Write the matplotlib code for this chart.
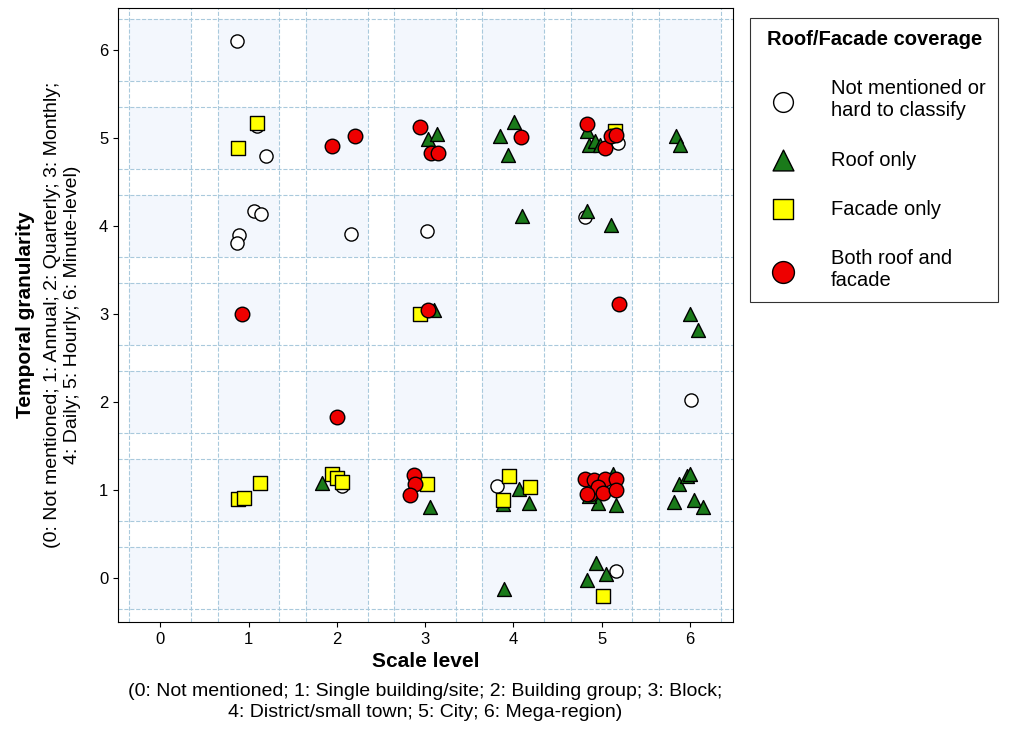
import matplotlib.pyplot as plt
from matplotlib.patches import Rectangle

plt.rcParams["font.family"] = ["Liberation Sans", "DejaVu Sans"]

none_x = [0.87, 1.10, 1.20, 1.06, 1.14, 0.89, 0.87, 2.16, 3.02, 4.81, 5.19, 6.01, 2.06, 3.82, 5.16]
none_y = [6.10, 5.14, 4.80, 4.17, 4.14, 3.90, 3.81, 3.91, 3.94, 4.10, 4.94, 2.02, 1.05, 1.05, 0.08]

roof_x = [3.03, 3.13, 3.85, 4.01, 3.94, 4.10, 4.84, 4.86, 4.93, 4.98, 5.84, 5.89, 4.84, 5.11,
          3.10, 6.00, 6.09, 1.83, 3.06, 3.88, 4.06, 4.18, 3.90, 4.83, 4.94, 5.05,
          4.96, 5.16, 5.13, 4.86, 5.82, 5.88, 5.97, 6.00, 6.05, 6.15]
roof_y = [4.99, 5.05, 5.02, 5.18, 4.81, 4.11, 5.08, 4.92, 4.97, 4.92, 5.02, 4.92, 4.17, 4.01,
          3.05, 3.00, 2.82, 1.08, 0.81, 0.84, 1.01, 0.85, -0.13, -0.02, 0.17, 0.05,
          0.85, 0.83, 1.18, 0.93, 0.86, 1.07, 1.16, 1.18, 0.89, 0.81]

facade_x = [1.10, 0.88, 0.88, 0.95, 1.13, 1.94, 2.00, 2.06, 2.94, 3.02, 3.95, 3.88, 4.19, 5.02, 5.15]
facade_y = [5.17, 4.89, 0.90, 0.91, 1.08, 1.18, 1.14, 1.09, 3.00, 1.07, 1.16, 0.89, 1.03, -0.20, 5.08]

both_x = [1.95, 2.21, 2.94, 3.07, 3.15, 4.09, 4.84, 5.04, 5.11, 5.16, 0.93, 3.03, 5.20, 2.00,
          2.88, 2.89, 2.83, 4.81, 4.91, 5.04, 5.16, 4.87, 4.96, 5.02, 5.16, 4.84]
both_y = [4.91, 5.02, 5.13, 4.83, 4.83, 5.01, 5.16, 4.89, 5.02, 5.04, 3.00, 3.05, 3.11, 1.83,
          1.17, 1.07, 0.94, 1.12, 1.11, 1.12, 1.13, 0.95, 1.03, 0.97, 1.00, 0.96]

fig = plt.figure(figsize=(10.15, 7.39), dpi=100)
ax = fig.add_axes([118 / 1015, 1 - 622 / 739, 615 / 1015, 614 / 739])

for i in range(7):
    for j in range(7):
        ax.add_patch(Rectangle((i - 0.35, j - 0.35), 0.7, 0.7, facecolor="#f3f7fd",
                               edgecolor="none", zorder=0))
grid_pos = [v for i in range(7) for v in (i - 0.35, i + 0.35)]
for g in grid_pos:
    ax.axvline(g, color="#a9c9dc", ls="--", lw=0.8, zorder=1)
    ax.axhline(g, color="#a9c9dc", ls="--", lw=0.8, zorder=1)

kw = dict(edgecolor="black", linewidths=1.0, zorder=3)
ax.scatter(none_x, none_y, s=90, marker="o", facecolor="white", label="Not mentioned or\nhard to classify", **kw)
ax.scatter(roof_x, roof_y, s=100, marker="^", facecolor="#1a7a1a", label="Roof only", **kw)
ax.scatter(facade_x, facade_y, s=90, marker="s", facecolor="#ffff00", label="Facade only", **kw)
ax.scatter(both_x, both_y, s=110, marker="o", facecolor="#ee0000", label="Both roof and\nfacade", **kw)

ax.set_xlim(-0.48, 6.49)
ax.set_ylim(-0.5, 6.48)
ax.set_xticks(range(7))
ax.set_yticks(range(7))
ax.tick_params(labelsize=12)
ax.set_xlabel("Scale level", fontsize=15, fontweight="bold", labelpad=4)
ax.text(0.5, -0.1, "(0: Not mentioned; 1: Single building/site; 2: Building group; 3: Block;\n"
        "4: District/small town; 5: City; 6: Mega-region)", transform=ax.transAxes,
        ha="center", va="top", fontsize=14, linespacing=1.25)
ax.text(-0.15, 0.5, "Temporal granularity", transform=ax.transAxes, rotation=90,
        ha="center", va="center", fontsize=15, fontweight="bold")
ax.text(-0.09, 0.5, "(0: Not mentioned; 1: Annual; 2: Quarterly; 3: Monthly;\n"
        "4: Daily; 5: Hourly; 6: Minute-level)", transform=ax.transAxes, rotation=90,
        ha="center", va="center", fontsize=14, linespacing=1.25)

leg = ax.legend(loc="upper left", bbox_to_anchor=(1.012, 1.0), title="Roof/Facade coverage",
                fontsize=14.5, title_fontproperties={"weight": "bold", "size": 14.5},
                frameon=True, fancybox=False, edgecolor="black", labelspacing=1.5,
                borderpad=0.6, markerscale=1.5, handletextpad=1.4)
leg.get_frame().set_linewidth(0.8)

fig.savefig("out.png", dpi=100)
